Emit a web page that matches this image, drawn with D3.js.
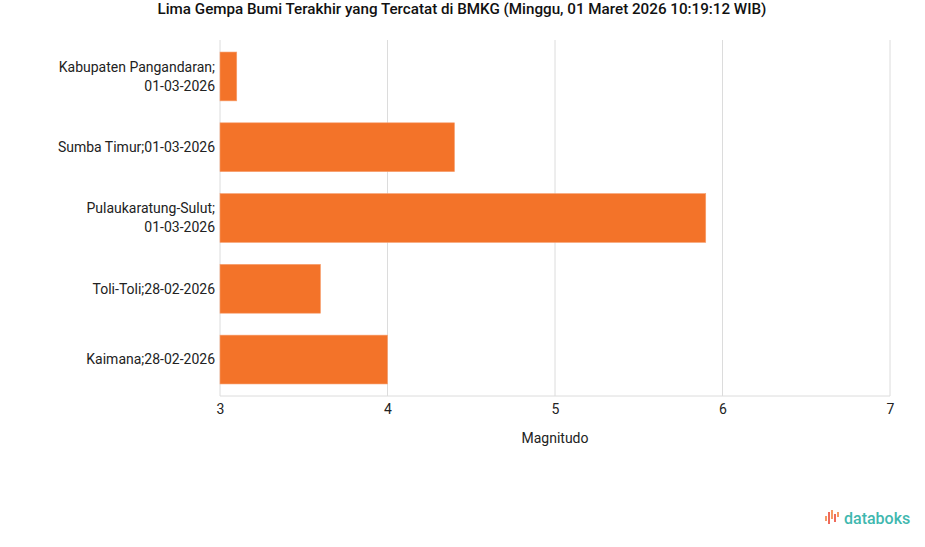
<!DOCTYPE html>
<html>
<head>
<meta charset="utf-8">
<script src="https://cdn.jsdelivr.net/npm/d3@7"></script>
<style>
  body { margin: 0; background: #fff; font-family: Roboto, "Liberation Sans", sans-serif; }
  svg text { fill: #222; }
</style>
</head>
<body>
<svg id="chart" width="925" height="547"></svg>
<script>
// chart data
const categories = [
    "Kabupaten Pangandaran;01-03-2026",
    "Sumba Timur;01-03-2026",
    "Pulaukaratung-Sulut;01-03-2026",
    "Toli-Toli;28-02-2026",
    "Kaimana;28-02-2026"
];
const magnitudes = [3.1, 4.4, 5.9, 3.6, 4.0];
const xTicks = [3, 4, 5, 6, 7];

const titleText = "Lima Gempa Bumi Terakhir yang Tercatat di BMKG (Minggu, 01 Maret 2026 10:19:12 WIB)";
const xAxisTitle = "Magnitudo";

const svg = d3.select("#chart");
const margin = { top: 40, right: 35, bottom: 151, left: 220 };
const width = 925 - margin.left - margin.right;
const height = 547 - margin.top - margin.bottom;

const g = svg.append("g").attr("transform", `translate(${margin.left},${margin.top})`);

const x = d3.scaleLinear().domain([3, 7]).range([0, width]);
const y = d3.scaleBand().domain(categories).range([0, height]).paddingInner(0.31).paddingOuter(0.17);

// title
svg.append("text")
    .attr("x", 462)
    .attr("y", 14)
    .attr("text-anchor", "middle")
    .style("font-size", "15.2px")
    .style("font-weight", 500)
    .style("fill", "#111")
    .text(titleText);

// grid lines
g.selectAll(".grid")
    .data(xTicks)
    .enter().append("line")
    .attr("class", "grid")
    .attr("x1", d => x(d)).attr("x2", d => x(d))
    .attr("y1", 0).attr("y2", height)
    .attr("stroke", "#dcdcdc")
    .attr("stroke-width", 1);

// bottom axis line
g.append("line")
    .attr("x1", 0).attr("x2", width)
    .attr("y1", height).attr("y2", height)
    .attr("stroke", "#dcdcdc");

// bars
g.selectAll(".bar")
    .data(categories)
    .enter().append("rect")
    .attr("class", "bar")
    .attr("x", x(3))
    .attr("y", d => y(d))
    .attr("width", (d, i) => x(magnitudes[i]) - x(3))
    .attr("height", y.bandwidth())
    .attr("fill", "#f37329")
    .attr("stroke", "#f7a070")
    .attr("stroke-width", 0.6);

// x axis tick labels
const xAxis = d3.axisBottom(x).tickValues(xTicks).tickSize(0).tickPadding(8).tickFormat(d3.format("d"));
g.append("g")
    .attr("transform", `translate(0,${height})`)
    .call(xAxis)
    .call(s => s.select(".domain").remove())
    .selectAll("text")
    .style("font-size", "14px")
    .style("font-family", "Roboto, sans-serif")
    .attr("fill", "#222");

// x axis title
g.append("text")
    .attr("x", width / 2)
    .attr("y", height + 47)
    .attr("text-anchor", "middle")
    .style("font-size", "14px")
    .text(xAxisTitle);

// y labels, wrapped after ";" when too long
const yLabels = g.selectAll(".ylabel")
    .data(categories)
    .enter().append("text")
    .attr("class", "ylabel")
    .attr("text-anchor", "end")
    .style("font-size", "14px");

yLabels.each(function(d) {
    const t = d3.select(this);
    const yc = y(d) + y.bandwidth() / 2;
    t.text(d).attr("x", -5).attr("y", yc).attr("dy", "0.35em");
    if (this.getComputedTextLength() > 185) {
        const parts = d.split(";");
        t.text(null);
        t.append("tspan").attr("x", -5).attr("y", yc - 9.5).attr("dy", "0.35em").text(parts[0] + ";");
        t.append("tspan").attr("x", -5).attr("y", yc + 9.5).attr("dy", "0.35em").text(parts[1]);
    }
});

// databoks logo
const logo = svg.append("g").attr("transform", "translate(825,510)");
const logoBars = [[0, 6, 5], [3, 2, 12], [6, 0, 9], [9, 4, 8], [12, 2, 5]];
logo.selectAll("rect")
    .data(logoBars)
    .enter().append("rect")
    .attr("x", d => d[0])
    .attr("y", d => d[1])
    .attr("width", 2)
    .attr("height", d => d[2])
    .attr("fill", (d, i) => i % 2 ? "#ef6b5b" : "#f59a63");
logo.append("text")
    .attr("x", 19)
    .attr("y", 14)
    .style("font-size", "16px")
    .style("font-weight", 500)
    .style("fill", "#3fb8af")
    .text("databoks");
</script>
</body>
</html>
